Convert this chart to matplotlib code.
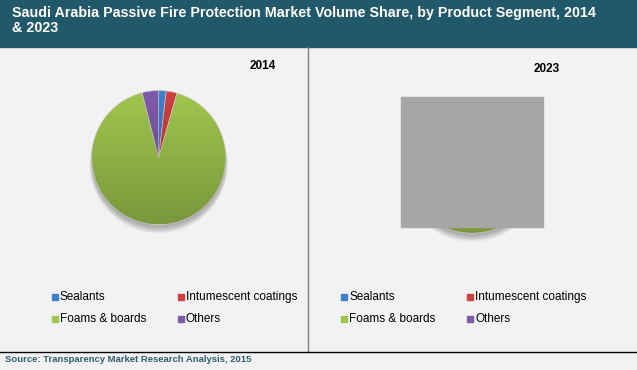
import matplotlib
matplotlib.use("Agg")
import matplotlib.pyplot as plt
import numpy as np
from matplotlib.patches import Rectangle, Circle

# shares (%), clockwise from 12 o'clock
segments = ["Sealants", "Intumescent coatings", "Foams & boards", "Others"]
share_2014 = [1.8, 2.6, 91.6, 4.0]
share_2023 = [1.9, 3.0, 91.0, 4.1]  # hidden behind the grey box in the source
years = ["2014", "2023"]
colors = ["#3F80CE", "#CF3F3F", "#A0C64E", "#7F5AA8"]

W, H = 637, 370
bg = "#F2F2F2"
head = "#22596A"

plt.rcParams['font.family'] = ['Liberation Sans', 'DejaVu Sans']

fig = plt.figure(figsize=(W / 100, H / 100), dpi=100, facecolor=bg)
base = fig.add_axes([0, 0, 1, 1])
base.set_xlim(0, W)
base.set_ylim(H, 0)
base.axis("off")

# header band + title
base.add_patch(Rectangle((0, 0), W, 47, color=head, zorder=1))
base.text(12, 6, "Saudi Arabia Passive Fire Protection Market Volume Share, by Product Segment, 2014\n& 2023",
          color="white", fontsize=10.3, fontweight="bold", va="top", ha="left",
          linespacing=1.1, zorder=2)

# frame lines
base.plot([308, 308], [47, 352], color="#808080", lw=1)
base.plot([0, W], [352, 352], color="black", lw=1)
base.text(5, 359, "Source: Transparency Market Research Analysis, 2015", color="#2E5E6E",
          fontsize=6.8, fontweight="bold", va="center", ha="left")


def draw_pie(values, cx, cy, r, year, yx, yy):
    ax = fig.add_axes([(cx - r) / W, (H - cy - r) / H, 2 * r / W, 2 * r / H])
    # soft drop shadow
    for k in range(6):
        ax.add_patch(Circle((0, -0.04 - 0.012 * k), 1.0 + 0.006 * k, color="#000000",
                            alpha=0.05, lw=0, zorder=0))
    ax.pie(values, colors=colors, startangle=90, counterclock=False, radius=1.0,
           wedgeprops=dict(linewidth=0.4, edgecolor="#d8d8d8", zorder=1))
    # top-to-bottom shading like the source
    shade = np.zeros((100, 2, 4))
    shade[:, :, 3] = np.linspace(0, 0.24, 100)[:, None]
    im = ax.imshow(shade, extent=(-1, 1, -1, 1), origin="upper", zorder=2,
                   interpolation="bilinear")
    im.set_clip_path(Circle((0, 0), 1.0, transform=ax.transData))
    ax.set_xlim(-1.15, 1.15)
    ax.set_ylim(-1.15, 1.15)
    ax.set_aspect("equal")
    ax.axis("off")
    base.text(yx, yy, year, fontsize=8.5, fontweight="bold", ha="center", va="center")


r = 67 * 1.15
draw_pie(share_2014, 158.7, 157.5, r, years[0], 263, 66)
draw_pie(share_2023, 472, 166, r, years[1], 547, 69)

# grey box that covers the 2023 pie
cover = fig.add_axes([0, 0, 1, 1], zorder=5)
cover.set_xlim(0, W)
cover.set_ylim(H, 0)
cover.axis("off")
cover.add_patch(Rectangle((401, 97), 142, 130, color="#A6A6A6"))

# legends
for x0 in (52, 341):
    for i, name in enumerate(segments):
        lx = x0 + (i % 2) * 126
        ly = 297 + (i // 2) * 22
        base.add_patch(Rectangle((lx, ly - 3), 6, 6, color=colors[i]))
        base.text(lx + 8, ly, name, fontsize=8.5, va="center", ha="left")

fig.savefig("out.png", dpi=100, facecolor=bg)
